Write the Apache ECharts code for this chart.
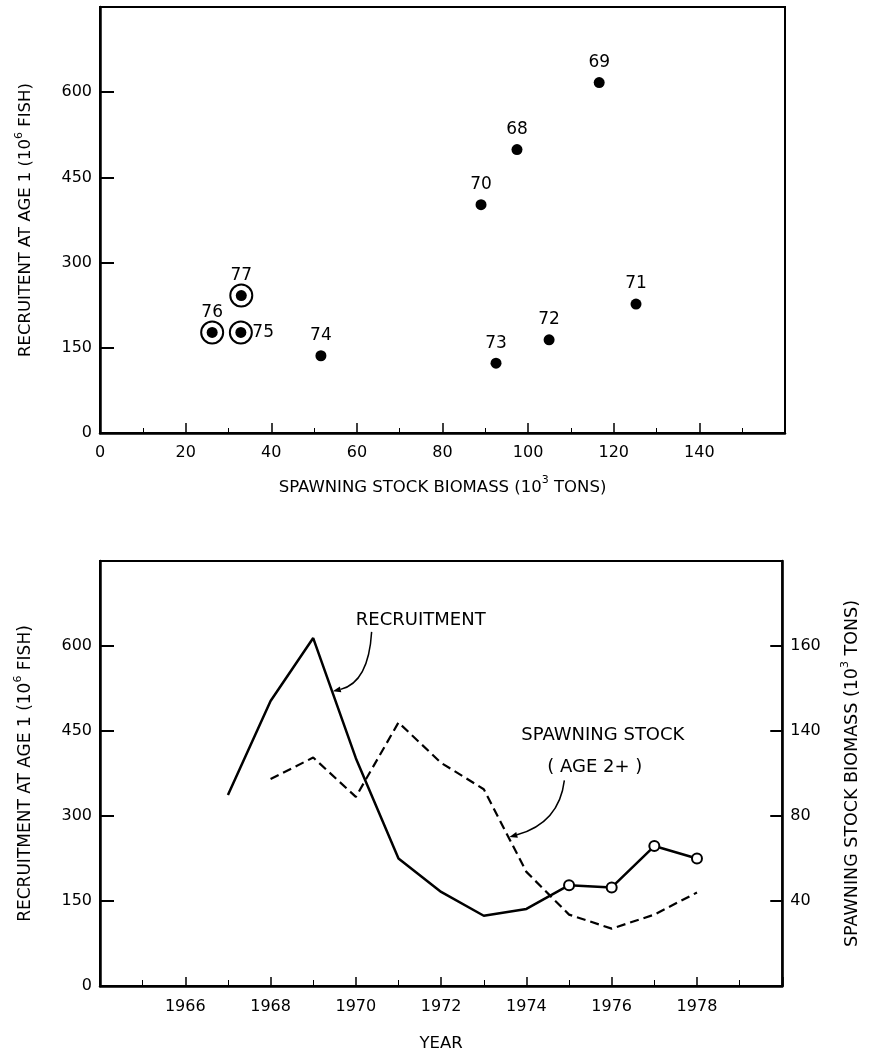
<!DOCTYPE html>
<html>
<head>
<meta charset="utf-8">
<script src="https://cdn.jsdelivr.net/npm/echarts@6/dist/echarts.min.js"></script>
<style>
html, body { margin: 0; padding: 0; background: #fff; }
#main { width: 869px; height: 1055px; }
</style>
</head>
<body>
<div id="main"></div>
<script>
// upper panel: stock - recruitment points, labelled by year
var pointYears = ['68', '69', '70', '71', '72', '73', '74', '75', '76', '77'];
var stockBiomass = [97.4, 116.6, 89, 125.2, 104.9, 92.5, 51.6, 32.9, 26.2, 33];
var recruits = [499, 617, 402, 227, 164, 123, 136, 177, 177, 242];
var ringedYears = ['75', '76', '77'];
var labelRightYears = ['75'];

// lower panel: time series
var years = [1967, 1968, 1969, 1970, 1971, 1972, 1973, 1974, 1975, 1976, 1977, 1978];
var recruitment = [337, 503, 614, 402, 225, 166, 124, 136, 178, 174, 247, 225];
var stockYears = [1968, 1969, 1970, 1971, 1972, 1973, 1974, 1975, 1976, 1977, 1978];
var spawningStock = [97.4, 107.5, 89, 124, 105, 92.6, 53.7, 33.6, 27, 33.6, 44];
var openMarkerYears = [1975, 1976, 1977, 1978];

// tick labels
var biomassTicks = [0, 20, 40, 60, 80, 100, 120, 140];
var recruitTicks = [0, 150, 300, 450, 600];
var yearTicks = [1966, 1968, 1970, 1972, 1974, 1976, 1978];
var rightTickValues = [40, 80, 120, 160];
var rightTickText = ['40', '80', '140', '160'];

var FONT = 'DejaVu Sans';

var chart = echarts.init(document.getElementById('main'));

function onlyTicks(list) {
    return function (v) { return list.indexOf(v) >= 0 ? String(v) : ''; };
}

function nameStyle(size) {
    return {
        color: '#000',
        rich: {
            t: { fontSize: size, fontFamily: FONT, color: '#000', lineHeight: size + 8 },
            s: { fontSize: 11, fontFamily: FONT, color: '#000', lineHeight: 11, verticalAlign: 'top' }
        }
    };
}

function axisBase(extra) {
    var a = {
        type: 'value',
        axisLine: { show: true, onZero: false, lineStyle: { color: '#000', width: 2.5 } },
        axisTick: { show: true, inside: true, length: 10, lineStyle: { color: '#000', width: 1.5 } },
        axisLabel: { color: '#000', fontSize: 16, fontFamily: FONT },
        splitLine: { show: false },
        nameLocation: 'middle',
        nameTextStyle: nameStyle(16.5)
    };
    for (var k in extra) a[k] = extra[k];
    return a;
}

var scatterData = pointYears.map(function (y, i) {
    return {
        name: y,
        value: [stockBiomass[i], recruits[i]],
        label: { position: labelRightYears.indexOf(y) >= 0 ? 'right' : 'top' }
    };
});
var ringData = scatterData.filter(function (d) { return ringedYears.indexOf(d.name) >= 0; })
    .map(function (d) { return { name: d.name, value: d.value }; });

var recruitData = years.map(function (y, i) {
    return { value: [y, recruitment[i]], symbol: openMarkerYears.indexOf(y) >= 0 ? 'circle' : 'none' };
});
var stockData = stockYears.map(function (y, i) { return [y, spawningStock[i]]; });

var option = {
    backgroundColor: '#fff',
    animation: false,
    grid: [
        { left: 100, top: 7, width: 685, height: 426, show: true, borderColor: '#000', borderWidth: 2 },
        { left: 100, top: 561, width: 685, height: 425, show: true, borderColor: '#000', borderWidth: 2 }
    ],
    xAxis: [
        axisBase({
            gridIndex: 0, min: 0, max: 160, interval: 20,
            minorTick: { show: true, splitNumber: 2, length: 5, lineStyle: { color: '#000' } },
            axisLabel: { color: '#000', fontSize: 16, fontFamily: FONT, margin: 12, formatter: onlyTicks(biomassTicks) },
            name: '{t|SPAWNING STOCK BIOMASS (10}{s|3}{t| TONS)}',
            nameGap: 42
        }),
        axisBase({
            gridIndex: 1, min: 1964, max: 1980, interval: 2,
            minorTick: { show: true, splitNumber: 2, length: 6, lineStyle: { color: '#000' } },
            axisTick: { show: true, inside: true, length: 9, lineStyle: { color: '#000', width: 1.5 } },
            axisLabel: { color: '#000', fontSize: 16, fontFamily: FONT, margin: 13, formatter: onlyTicks(yearTicks) },
            name: '{t|YEAR}',
            nameGap: 45
        })
    ],
    yAxis: [
        axisBase({
            gridIndex: 0, min: 0, max: 750, interval: 150,
            axisTick: { show: true, inside: true, length: 14, lineStyle: { color: '#000', width: 2 } },
            axisLabel: { color: '#000', fontSize: 16, fontFamily: FONT, margin: 8, formatter: onlyTicks(recruitTicks) },
            name: '{t|RECRUITENT AT AGE 1 (10}{s|6}{t| FISH)}',
            nameGap: 62
        }),
        axisBase({
            gridIndex: 1, min: 0, max: 750, interval: 150,
            axisTick: { show: true, inside: true, length: 14, lineStyle: { color: '#000', width: 2 } },
            axisLabel: { color: '#000', fontSize: 16, fontFamily: FONT, margin: 8, formatter: onlyTicks(recruitTicks) },
            name: '{t|RECRUITMENT AT AGE 1 (10}{s|6}{t| FISH)}',
            nameTextStyle: nameStyle(17),
            nameGap: 62
        }),
        axisBase({
            gridIndex: 1, min: 0, max: 200, interval: 40, position: 'right',
            axisTick: { show: true, inside: true, length: 12, lineStyle: { color: '#000', width: 2 } },
            axisLabel: {
                color: '#000', fontSize: 16, fontFamily: FONT, margin: 8,
                formatter: function (v) {
                    var i = rightTickValues.indexOf(v);
                    return i >= 0 ? rightTickText[i] : '';
                }
            },
            name: '{t|SPAWNING STOCK BIOMASS (10}{s|3}{t| TONS)}',
            nameTextStyle: nameStyle(17.5),
            nameGap: 57
        })
    ],
    series: [
        {
            type: 'scatter', xAxisIndex: 0, yAxisIndex: 0,
            symbol: 'circle', symbolSize: 22,
            itemStyle: { color: '#fff', borderColor: '#000', borderWidth: 2, opacity: 1 },
            data: ringData, silent: true
        },
        {
            type: 'scatter', xAxisIndex: 0, yAxisIndex: 0,
            symbol: 'circle', symbolSize: 11,
            itemStyle: { color: '#000', opacity: 1 },
            label: {
                show: true, distance: 6, color: '#000', fontSize: 17, fontFamily: FONT,
                formatter: function (p) { return p.name; }
            },
            data: scatterData
        },
        {
            type: 'line', xAxisIndex: 1, yAxisIndex: 1,
            symbolSize: 10, showAllSymbol: true,
            itemStyle: { color: '#fff', borderColor: '#000', borderWidth: 2, opacity: 1 },
            lineStyle: { color: '#000', width: 2.5 },
            data: recruitData, z: 3
        },
        {
            type: 'line', xAxisIndex: 1, yAxisIndex: 2,
            symbol: 'none',
            lineStyle: { color: '#000', width: 2.2, type: [9, 5] },
            data: stockData, z: 2
        }
    ]
};
chart.setOption(option);

// annotations with curved leaders, placed in the lower panel's data space
function px(p) { return chart.convertToPixel({ xAxisIndex: 1, yAxisIndex: 1 }, p); }

function leader(s, c, e) {
    var a = px(s), b = px(c), d = px(e);
    var dx = d[0] - b[0], dy = d[1] - b[1], len = Math.sqrt(dx * dx + dy * dy);
    var ux = dx / len, uy = dy / len;
    var back = [d[0] - ux * 8, d[1] - uy * 8];
    return [
        {
            type: 'bezierCurve',
            shape: { x1: a[0], y1: a[1], cpx1: b[0], cpy1: b[1], x2: back[0], y2: back[1] },
            style: { stroke: '#000', lineWidth: 1.5, fill: null }
        },
        {
            type: 'polygon',
            shape: { points: [d, [back[0] - uy * 3, back[1] + ux * 3], [back[0] + uy * 3, back[1] - ux * 3]] },
            style: { fill: '#000' }
        }
    ];
}

function note(text, p) {
    var q = px(p);
    return {
        type: 'text', x: q[0], y: q[1],
        style: { text: text, font: '18px "DejaVu Sans"', fill: '#000', textAlign: 'left', textVerticalAlign: 'middle' }
    };
}

var graphics = [note('RECRUITMENT', [1970.0, 646]),
    note('SPAWNING STOCK', [1973.88, 443]),
    note('( AGE 2+ )', [1974.49, 386])]
    .concat(leader([1970.37, 625], [1970.3, 536], [1969.46, 520]))
    .concat(leader([1974.89, 363], [1974.77, 288], [1973.6, 263]));

chart.setOption({ graphic: graphics });
</script>
</body>
</html>
